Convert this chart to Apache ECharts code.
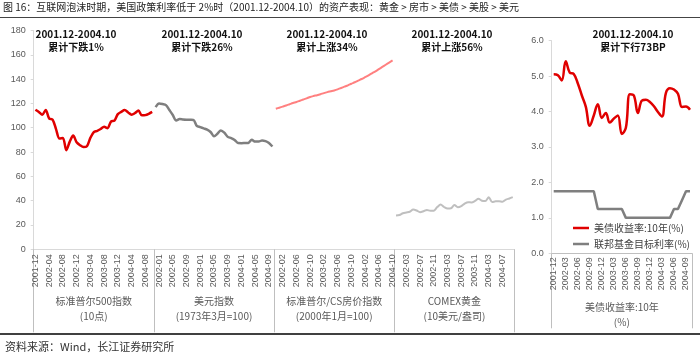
<!DOCTYPE html>
<html><head><meta charset="utf-8">
<script src="https://cdn.jsdelivr.net/npm/echarts@6/dist/echarts.min.js"></script>
<style>html,body{margin:0;padding:0;background:#fff}#c{width:700px;height:359px}</style>
</head><body><div id="c"></div>
<script>
const months = ['2001-12','2002-01','2002-02','2002-03','2002-04','2002-05','2002-06','2002-07','2002-08','2002-09','2002-10','2002-11','2002-12',
'2003-01','2003-02','2003-03','2003-04','2003-05','2003-06','2003-07','2003-08','2003-09','2003-10','2003-11','2003-12',
'2004-01','2004-02','2004-03','2004-04','2004-05','2004-06','2004-07','2004-08','2004-09','2004-10'];
const groupNames = ['标准普尔500指数\n(10点)','美元指数\n(1973年3月=100)','标准普尔/CS房价指数\n(2000年1月=100)','COMEX黄金\n(10美元/盎司)'];
const rightGroup = ['美债收益率:10年\n(%)'];
const sp500 = [114.8,113.0,110.7,114.7,107.6,106.7,98.9,91.2,91.6,81.5,88.6,93.6,88.0,85.6,84.1,84.8,91.7,96.4,97.5,99.0,100.8,99.6,105.1,105.8,111.2,113.1,114.5,112.6,110.7,112.1,114.1,110.2,110.4,111.5,113.0];
const dollar = [117.0,120.0,119.5,118.6,114.6,110.5,106.0,107.2,106.8,106.6,106.5,106.4,101.5,100.5,99.5,98.5,96.5,93.0,95.0,97.8,96.0,92.5,91.5,90.0,87.4,87.3,87.4,87.5,90.1,88.6,88.6,89.6,89.0,87.5,84.6];
const house = [115.6,116.5,117.4,118.3,119.3,120.3,121.2,122.2,123.2,124.2,125.3,126.1,126.8,127.6,128.5,129.3,130.0,130.7,131.6,132.7,133.8,134.9,136.2,137.4,138.8,140.1,141.6,143.1,144.8,146.4,148.2,150.0,151.8,153.6,155.4];
const gold = [27.9,28.2,29.7,30.3,30.9,32.7,31.9,30.5,31.3,32.4,31.7,31.8,34.7,36.8,34.8,33.5,33.7,36.5,34.6,35.5,37.6,38.8,38.6,39.8,41.6,40.0,39.7,42.8,38.9,39.5,39.6,39.1,40.9,41.8,42.9];
const ust10y = [5.05,5.03,4.88,5.42,5.10,5.06,4.80,4.46,4.14,3.60,3.89,4.21,3.82,3.96,3.69,3.80,3.89,3.37,3.54,4.49,4.45,3.96,4.31,4.33,4.27,4.15,3.99,3.86,4.53,4.66,4.62,4.50,4.13,4.14,4.05];
const fedTarget = [1.75,1.75,1.75,1.75,1.75,1.75,1.75,1.75,1.75,1.75,1.75,1.25,1.25,1.25,1.25,1.25,1.25,1.25,1.00,1.00,1.00,1.00,1.00,1.00,1.00,1.00,1.00,1.00,1.00,1.00,1.25,1.25,1.50,1.75,1.75];
const notes = [['2001.12-2004.10','累计下跌1%'],['2001.12-2004.10','累计下跌26%'],['2001.12-2004.10','累计上涨34%'],['2001.12-2004.10','累计上涨56%'],['2001.12-2004.10','累计下行73BP']];
const leftTicks = [0,180,20];
const rightTicks = [0,6,1];

const N = months.length;
const leftCats = [].concat(months, months, months, months);
function place(arr, g){ const out = new Array(N*4).fill(null); arr.forEach((v,i)=>{ out[g*N+i] = v; }); return out; }

const FONT = '"Noto Sans CJK SC","Noto Sans",sans-serif';
const lab = {color:'#595959', fontSize:9, fontFamily:'Liberation Sans, Arial, sans-serif'};
const chart = echarts.init(document.getElementById('c'), null, {renderer:'canvas'});

const noteX = [76, 202, 327, 452, 633];
const graphic = [
  {type:'text', left:3, top:2, style:{text:'图 16：互联网泡沫时期，美国政策利率低于 2%时（2001.12-2004.10）的资产表现：黄金 > 房市 > 美债 > 美股 > 美元', fill:'#222', font:'10px '+FONT}},
  {type:'line', shape:{x1:0,y1:17.5,x2:700,y2:17.5}, style:{stroke:'#444', lineWidth:1}},
  {type:'line', shape:{x1:0,y1:334,x2:700,y2:334}, style:{stroke:'#404040', lineWidth:2}},
  {type:'text', left:5, top:341, style:{text:'资料来源：Wind，长江证券研究所', fill:'#333', font:'11px '+FONT}}
];
notes.forEach((n,k)=>{
  graphic.push({type:'text', x:noteX[k], y:34, style:{text:n[0], fill:'#111', font:'bold 10px '+FONT, textAlign:'center', textVerticalAlign:'middle'}});
  graphic.push({type:'text', x:noteX[k], y:47, style:{text:n[1], fill:'#111', font:'bold 10px '+FONT, textAlign:'center', textVerticalAlign:'middle'}});
});

const option = {
  animation:false,
  graphic: graphic,
  grid:[
    {left:33.7, right:185.5, top:30.5, bottom:109.7},
    {left:551.7, right:8, top:40.7, bottom:105.7}
  ],
  legend:{
    data:[{name:'美债收益率:10年(%)', icon:'rect'},{name:'联邦基金目标利率(%)', icon:'rect'}],
    orient:'vertical', left:568, top:217, itemWidth:16, itemHeight:2.5, itemGap:4,
    textStyle:{color:'#404040', fontSize:10, lineHeight:12, fontFamily:FONT}
  },
  xAxis:[
    {type:'category', gridIndex:0, data:leftCats, boundaryGap:true,
     axisLine:{lineStyle:{color:'#d9d9d9'}}, axisTick:{show:false},
     axisLabel:Object.assign({interval:3, rotate:90, margin:5}, lab)},
    {type:'category', gridIndex:0, data:groupNames, position:'bottom', offset:0, boundaryGap:true,
     axisLine:{show:false}, axisTick:{show:true, interval:0, length:83, lineStyle:{color:'#bfbfbf'}},
     axisLabel:{interval:0, margin:44, lineHeight:15, color:'#595959', fontSize:10, fontFamily:FONT}},
    {type:'category', gridIndex:1, data:months, boundaryGap:true,
     axisLine:{lineStyle:{color:'#bfbfbf'}}, axisTick:{show:false},
     axisLabel:Object.assign({interval:2, rotate:90, margin:4}, lab)},
    {type:'category', gridIndex:1, data:rightGroup, position:'bottom', offset:0, boundaryGap:true,
     axisLine:{show:false}, axisTick:{show:true, interval:0, length:75, lineStyle:{color:'#bfbfbf'}},
     axisLabel:{interval:0, margin:46, lineHeight:15, color:'#595959', fontSize:10, fontFamily:FONT}}
  ],
  yAxis:[
    {type:'value', gridIndex:0, min:leftTicks[0], max:leftTicks[1], interval:leftTicks[2],
     splitLine:{show:false}, axisLine:{show:true, lineStyle:{color:'#d9d9d9'}},
     axisTick:{show:true, length:3, lineStyle:{color:'#d9d9d9'}},
     axisLabel:Object.assign({margin:8}, lab)},
    {type:'value', gridIndex:1, min:rightTicks[0], max:rightTicks[1], interval:rightTicks[2],
     splitLine:{show:false}, axisLine:{show:true, lineStyle:{color:'#d9d9d9'}},
     axisTick:{show:true, length:3, lineStyle:{color:'#d9d9d9'}},
     axisLabel:Object.assign({margin:8, formatter:v=>v.toFixed(1)}, lab)}
  ],
  series:[
    {name:'标普500', type:'line', xAxisIndex:0, yAxisIndex:0, data:place(sp500,0), symbol:'none', smooth:0.3, connectNulls:false,
     lineStyle:{color:'#e00000', width:2.5}, itemStyle:{color:'#e00000'}},
    {name:'美元指数', type:'line', xAxisIndex:0, yAxisIndex:0, data:place(dollar,1), symbol:'none', smooth:0.3,
     lineStyle:{color:'#7f7f7f', width:2.5}, itemStyle:{color:'#7f7f7f'}},
    {name:'房价', type:'line', xAxisIndex:0, yAxisIndex:0, data:place(house,2), symbol:'none', smooth:0.3,
     lineStyle:{color:'#ff8080', width:2}, itemStyle:{color:'#ff8080'}},
    {name:'黄金', type:'line', xAxisIndex:0, yAxisIndex:0, data:place(gold,3), symbol:'none', smooth:0.3,
     lineStyle:{color:'#bfbfbf', width:2}, itemStyle:{color:'#bfbfbf'}},
    {name:'美债收益率:10年(%)', type:'line', xAxisIndex:2, yAxisIndex:1, data:ust10y, symbol:'none', smooth:0.4,
     lineStyle:{color:'#e00000', width:2.5}, itemStyle:{color:'#e00000'}},
    {name:'联邦基金目标利率(%)', type:'line', xAxisIndex:2, yAxisIndex:1, data:fedTarget, symbol:'none',
     lineStyle:{color:'#7f7f7f', width:2.5}, itemStyle:{color:'#7f7f7f'}}
  ]
};
chart.setOption(option);
</script></body></html>
